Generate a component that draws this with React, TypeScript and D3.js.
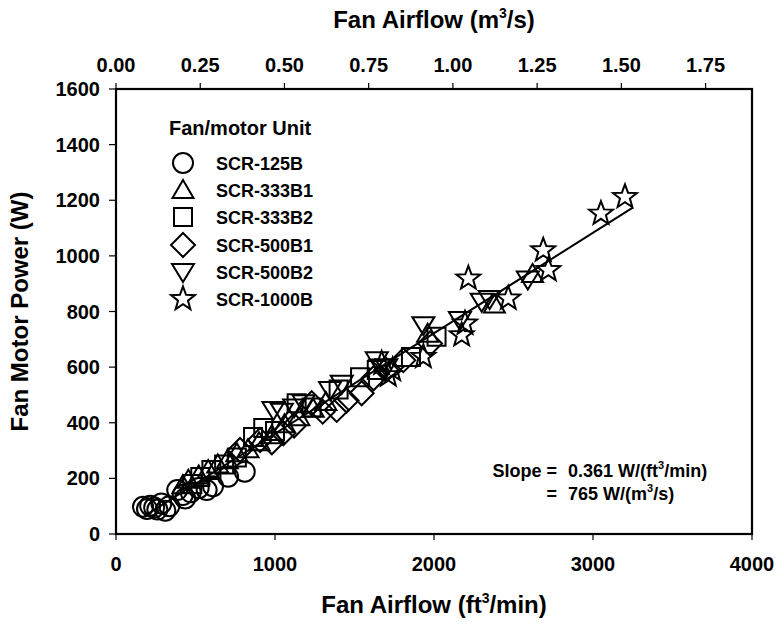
import React from 'react';
import * as d3 from 'd3';

type Pt = [number, number];

const xTicks = [0, 1000, 2000, 3000, 4000];
const yTicks = [0, 200, 400, 600, 800, 1000, 1200, 1400, 1600];
const topTicks = [0, 0.25, 0.5, 0.75, 1.0, 1.25, 1.5, 1.75];
const CFM_PER_M3S = 2118.88;

const seriesNames = ['SCR-125B', 'SCR-333B1', 'SCR-333B2', 'SCR-500B1', 'SCR-500B2', 'SCR-1000B'];
const seriesShapes = ['circle', 'triangle', 'square', 'diamond', 'invtriangle', 'star'];

const scr125B: Pt[] = [
  [170, 98], [195, 90], [215, 102], [240, 95], [260, 88], [285, 110], [310, 84], [335, 100],
  [385, 158], [420, 140], [435, 128], [470, 150], [520, 165], [570, 158], [610, 172], [705, 206], [810, 224],
];
const scr333B1: Pt[] = [
  [420, 175], [455, 195], [520, 210], [580, 230], [640, 250], [700, 265], [760, 290], [830, 305],
  [900, 330], [980, 355], [1060, 395], [1150, 420], [1240, 450], [1320, 475], [1960, 720], [2380, 825], [2620, 935],
];
const scr333B2: Pt[] = [
  [480, 180], [530, 205], [600, 230], [680, 250], [760, 275], [862, 349], [926, 381], [1000, 370],
  [1136, 470], [1230, 455], [1400, 520], [1535, 564], [1640, 590], [1855, 636], [2016, 709],
];
const scr500B1: Pt[] = [
  [780, 302], [906, 338], [980, 330], [1052, 362], [1120, 390], [1231, 470], [1300, 440], [1388, 446],
  [1450, 480], [1545, 506], [1620, 560], [1700, 590], [1807, 625], [1975, 685],
];
const scr500B2: Pt[] = [
  [990, 446], [1043, 440], [1120, 455], [1180, 470], [1346, 518], [1420, 540], [1640, 625], [1700, 600],
  [1933, 751], [2163, 769], [2300, 835], [2350, 845], [2590, 915],
];
const scr1000B: Pt[] = [
  [1671, 613], [1713, 571], [1740, 590], [1933, 637], [2174, 715], [2195, 757], [2216, 919],
  [2467, 847], [2687, 1020], [2719, 949], [3050, 1152], [3201, 1212],
];
const seriesData = [scr125B, scr333B1, scr333B2, scr500B1, scr500B2, scr1000B];

const slope = 0.361;
const fitRange = [180, 3250];

const W = 776, H = 626;
const L = 116, R = 752, T = 89, B = 534;
const FONT = 'Liberation Sans, Arial, sans-serif';

function shapePath(kind: string): string {
  const p = d3.path();
  if (kind === 'circle') {
    p.arc(0, 0, 10, 0, Math.PI * 2);
    p.closePath();
  } else if (kind === 'triangle') {
    p.moveTo(0, -10); p.lineTo(10.5, 8); p.lineTo(-10.5, 8); p.closePath();
  } else if (kind === 'invtriangle') {
    p.moveTo(0, 10); p.lineTo(11, -8); p.lineTo(-11, -8); p.closePath();
  } else if (kind === 'square') {
    p.rect(-9, -9, 18, 18);
  } else if (kind === 'diamond') {
    p.moveTo(0, -12); p.lineTo(12, 0); p.lineTo(0, 12); p.lineTo(-12, 0); p.closePath();
  } else if (kind === 'star') {
    const ro = 12.5, ri = 5.2;
    for (let i = 0; i < 10; i++) {
      const a = -Math.PI / 2 + (i * Math.PI) / 5;
      const r = i % 2 === 0 ? ro : ri;
      const x = r * Math.cos(a), y = r * Math.sin(a);
      if (i === 0) p.moveTo(x, y); else p.lineTo(x, y);
    }
    p.closePath();
  }
  return p.toString();
}

export default function App() {
  const x = d3.scaleLinear().domain([0, 4000]).range([L, R]);
  const xTop = d3.scaleLinear().domain([0, 4000 / CFM_PER_M3S]).range([L, R]);
  const y = d3.scaleLinear().domain([0, 1600]).range([B, T]);
  const line = d3.line<number>().x((q) => x(q)).y((q) => y(slope * q));

  const legendY = [163, 190, 217, 245, 272, 299];

  return (
    <svg width={W} height={H} style={{ position: 'absolute', left: 0, top: 0, background: '#fff' }}
      fontFamily={FONT} fontWeight="bold">
      <rect x={0} y={0} width={W} height={H} fill="#fff" />
      {/* frame */}
      <rect x={L} y={T} width={R - L} height={B - T} fill="none" stroke="#000" strokeWidth={2.2} />
      {/* bottom axis */}
      {xTicks.map((t) => (
        <g key={'bx' + t}>
          <line x1={x(t)} x2={x(t)} y1={B} y2={B + 6} stroke="#000" strokeWidth={1.2} />
          <text x={x(t)} y={571} textAnchor="middle" fontSize={20}>{t}</text>
        </g>
      ))}
      {/* top axis */}
      {topTicks.map((t) => (
        <g key={'tx' + t}>
          <line x1={xTop(t)} x2={xTop(t)} y1={T} y2={T - 6} stroke="#000" strokeWidth={1.2} />
          <text x={xTop(t)} y={72} textAnchor="middle" fontSize={20}>{t.toFixed(2)}</text>
        </g>
      ))}
      {/* left axis */}
      {yTicks.map((t) => (
        <g key={'ly' + t}>
          <line x1={L} x2={L - 7} y1={y(t)} y2={y(t)} stroke="#000" strokeWidth={1.2} />
          <text x={100} y={y(t) + 7} textAnchor="end" fontSize={20}>{t}</text>
        </g>
      ))}
      {/* titles */}
      <text x={(L + R) / 2} y={28} textAnchor="middle" fontSize={24}>
        Fan Airflow (m<tspan fontSize={14} dy={-10}>3</tspan><tspan dy={10}>/s)</tspan>
      </text>
      <text x={(L + R) / 2} y={613} textAnchor="middle" fontSize={24}>
        Fan Airflow (ft<tspan fontSize={14} dy={-10}>3</tspan><tspan dy={10}>/min)</tspan>
      </text>
      <text transform={`translate(28,${(T + B) / 2}) rotate(-90)`} textAnchor="middle" fontSize={24}>
        Fan Motor Power (W)
      </text>
      {/* fit line */}
      <path d={line(fitRange) || ''} fill="none" stroke="#000" strokeWidth={2} />
      {/* data */}
      {seriesData.map((data, si) => (
        <g key={'s' + si}>
          {data.map((d, i) => (
            <path key={i} d={shapePath(seriesShapes[si])} transform={`translate(${x(d[0])},${y(d[1])})`}
              fill="none" stroke="#000" strokeWidth={2} />
          ))}
        </g>
      ))}
      {/* legend */}
      <text x={169} y={135} fontSize={20}>Fan/motor Unit</text>
      {seriesNames.map((n, i) => (
        <g key={'lg' + i}>
          <path d={shapePath(seriesShapes[i])} transform={`translate(183,${legendY[i]})`} fill="none" stroke="#000" strokeWidth={2} />
          <text x={216} y={legendY[i] + 7} fontSize={18}>{n}</text>
        </g>
      ))}
      {/* slope annotation */}
      <text x={557} y={477} textAnchor="end" fontSize={18}>Slope =</text>
      <text x={568} y={477} fontSize={18}>
        0.361 W/(ft<tspan fontSize={11} dy={-8}>3</tspan><tspan dy={8}>/min)</tspan>
      </text>
      <text x={557} y={500} textAnchor="end" fontSize={18}>=</text>
      <text x={568} y={500} fontSize={18}>
        765 W/(m<tspan fontSize={11} dy={-8}>3</tspan><tspan dy={8}>/s)</tspan>
      </text>
    </svg>
  );
}
